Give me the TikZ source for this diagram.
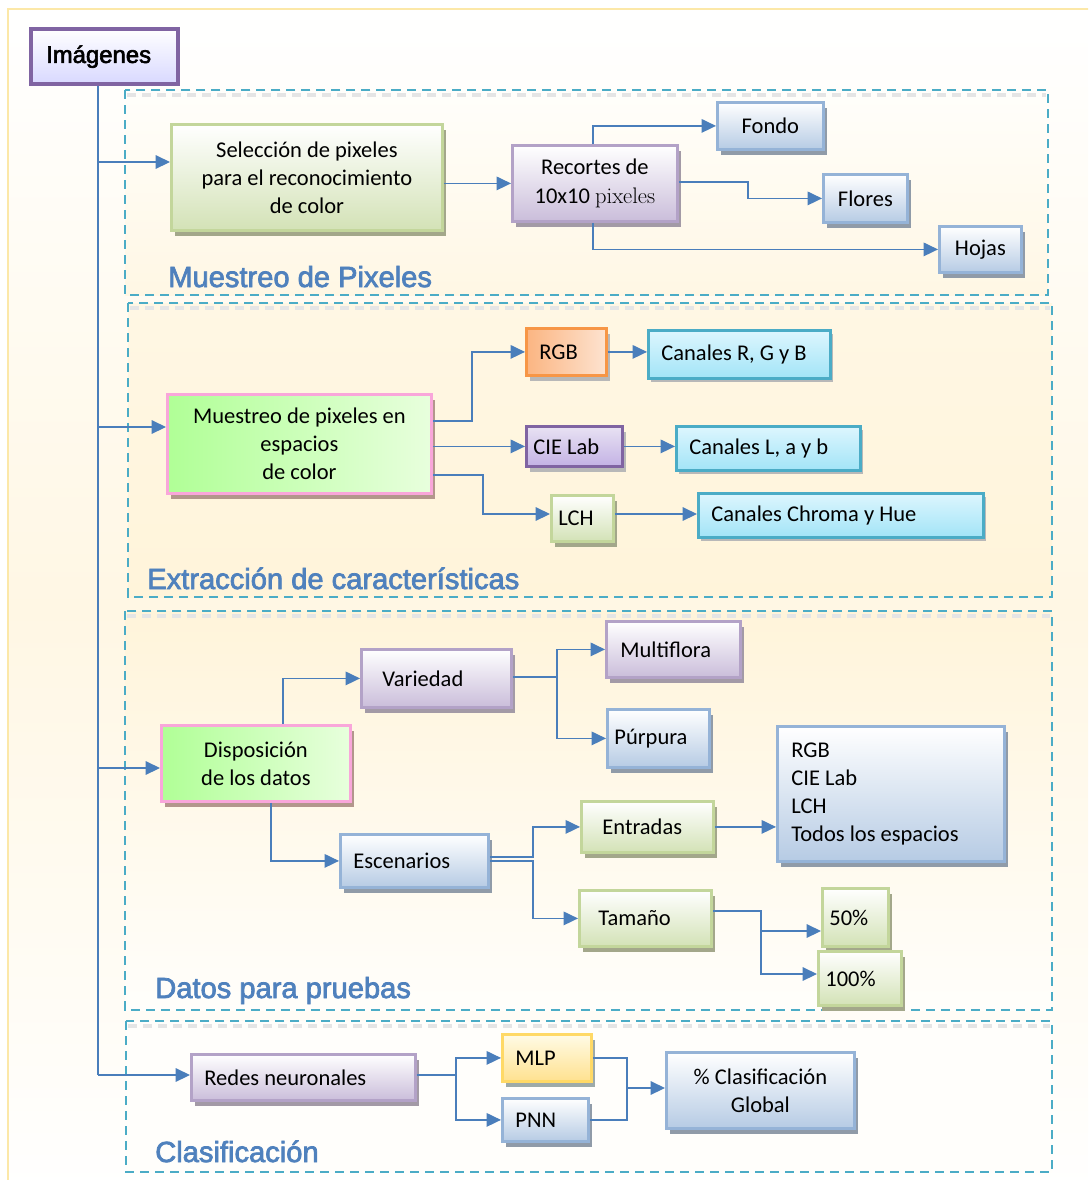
\documentclass[tikz,border=0pt]{standalone}
\usepackage{fontspec}
\newfontfamily\calibri{Carlito}
\newfontfamily\arialheavy[FakeBold=2.5]{Liberation Sans}
\usetikzlibrary{arrows.meta,shadows}

% palette
\definecolor{lineblue}{HTML}{4A7EBB}
\definecolor{dashcyan}{HTML}{4BACC6}
\definecolor{titleblue}{HTML}{4F81BD}
\definecolor{frameyellow}{HTML}{FCE8A8}
\definecolor{gline}{HTML}{C3D69B}
\definecolor{gfill}{HTML}{D3E2B6}
\definecolor{gshade}{HTML}{A3A78A}
\definecolor{pline}{HTML}{B3A2C7}
\definecolor{pfill}{HTML}{CABDDA}
\definecolor{pshade}{HTML}{A39AA6}
\definecolor{bline}{HTML}{95B3D7}
\definecolor{bfill}{HTML}{B6CBE4}
\definecolor{bshade}{HTML}{909BA8}
\definecolor{kline}{HTML}{F9A6DA}
\definecolor{kfillA}{HTML}{B0FF96}
\definecolor{kfillB}{HTML}{E8FFDD}
\definecolor{kshade}{HTML}{B3968C}
\definecolor{oline}{HTML}{F79646}
\definecolor{ofillA}{HTML}{FBB582}
\definecolor{ofillB}{HTML}{FDE3D0}
\definecolor{vline}{HTML}{8064A2}
\definecolor{vfillA}{HTML}{E8E2F3}
\definecolor{vfillB}{HTML}{C3B2E4}
\definecolor{cfillA}{HTML}{DDF6FE}
\definecolor{cfillB}{HTML}{A2E4F7}
\definecolor{yline}{HTML}{FFD966}
\definecolor{yfillA}{HTML}{FFFBE6}
\definecolor{yfillB}{HTML}{FFE18F}
\definecolor{yshade}{HTML}{9DAAA9}
\definecolor{lightshade}{HTML}{B8B8B8}
\definecolor{imgfill}{HTML}{D8D8FF}
\definecolor{creamA}{HTML}{FFFEFB}
\definecolor{creamB}{HTML}{FFF7E4}
\definecolor{creamC}{HTML}{FFF4DA}

\begin{document}
\begin{tikzpicture}[x=0.025cm,y=-0.025cm,
  box/.style={draw, line width=2pt, inner sep=0pt, align=center, text=black,
    font=\calibri\fontsize{16}{20}\selectfont},
  wh/.style 2 args={minimum width=#1*0.025cm, minimum height=#2*0.025cm, anchor=north west},
  lft/.code 2 args={\pgfmathsetlengthmacro\boxtw{(#1-2*(#2))*0.025cm}%
    \pgfmathsetlengthmacro\boxin{#2*0.025cm}%
    \pgfkeysalso{text width=\boxtw, inner xsep=\boxin, align=flush left}},
  shd/.style={drop shadow={shadow xshift=0.1cm, shadow yshift=-0.13cm, opacity=1, fill=#1}},
  gbox/.style={box, draw=gline, top color=white, bottom color=gfill, shd=gshade},
  pbox/.style={box, draw=pline, top color=white, bottom color=pfill, shd=pshade},
  bbox/.style={box, draw=bline, top color=white, bottom color=bfill, shd=bshade},
  kbox/.style={box, draw=kline, left color=kfillA, right color=kfillB, shd=kshade},
  obox/.style={box, draw=oline, left color=ofillA, right color=ofillB, shd=lightshade},
  vbox/.style={box, draw=vline, top color=vfillA, bottom color=vfillB, shd=lightshade},
  cbox/.style={box, draw=dashcyan, top color=cfillA, bottom color=cfillB,
    drop shadow={shadow xshift=0.06cm, shadow yshift=-0.08cm, opacity=1, fill=lightshade}},
  ybox/.style={box, draw=yline, top color=yfillA, bottom color=yfillB, shd=yshade},
  sect/.style={draw=dashcyan, line width=1.5pt, dash pattern=on 0.225cm off 0.15cm},
  sectshadow/.style={draw=black!10, line width=2.5pt, dash pattern=on 0.225cm off 0.15cm},
  ttl/.style={anchor=base west, inner sep=0pt, text=titleblue,
    font=\arialheavy\fontsize{20.7}{24}\selectfont},
  con/.style={draw=lineblue, line width=0.9pt},
  arr/.style={con, -{Triangle[length=0.36cm,width=0.34cm]}}
]
\path[use as bounding box, clip] (0,0) rectangle (1088,1180);

% page frame
\draw[draw=frameyellow, line width=1.6pt, top color=white, bottom color=white,
  middle color=creamB] (8,9) rectangle (1120,1210);

% section panels
\fill[top color=creamA, bottom color=creamB] (125,90) rectangle (1048,295);
\fill[top color=creamB, bottom color=creamC] (128,303) rectangle (1052,597);
\fill[top color=creamC, bottom color=creamA] (125,611) rectangle (1052,1010);
\fill[top color=creamA, bottom color=creamA] (126,1021) rectangle (1052,1172);
\draw[sectshadow] (127,95) -- (1046,95);
\draw[sectshadow] (130,308) -- (1050,308);
\draw[sectshadow] (127,616) -- (1050,616);
\draw[sectshadow] (128,1026) -- (1050,1026);
\draw[sect] (125,90) rectangle (1048,295);
\draw[sect] (128,303) rectangle (1052,597);
\draw[sect] (125,611) rectangle (1052,1010);
\draw[sect] (126,1021) rectangle (1052,1172);

\node[ttl] (t1) at (168,287) {Muestreo de Pixeles};
\node[ttl] (t2) at (147,589) {Extracción de características};
\node[ttl] (t3) at (155,998) {Datos para pruebas};
\node[ttl] (t4) at (155,1162) {Clasificación};

% root
\node[box, draw=vline, line width=3pt, top color=white, bottom color=imgfill,
  wh={147}{55}, lft={147}{15}, font=\arialheavy\fontsize{17}{20}\selectfont] (img) at (29,27) {\raisebox{-1.5pt}{Imágenes}};

% section 1
\node[gbox, wh={271}{106}] (sel) at (170,123) {Selección de pixeles\\para el reconocimiento\\de color};
\node[pbox, wh={165}{76}] (rec) at (511,144) {Recortes de\\10x10 {\rmfamily pixeles}};
\node[bbox, wh={106}{47}] (fon) at (716,101) {Fondo};
\node[bbox, wh={84}{48}] (flo) at (822,173) {Flores};
\node[bbox, wh={82}{46}] (hoj) at (938,225) {Hojas};

% section 2
\node[kbox, wh={264}{99}] (mue) at (166,393) {Muestreo de pixeles en\\espacios\\de color};
\node[obox, wh={80}{47}, lft={80}{13}] (rgb) at (525,327) {RGB};
\node[vbox, wh={96}{40}, lft={96}{7}] (cie) at (525,425) {CIE Lab};
\node[gbox, wh={62}{46}, lft={62}{7}] (lch) at (550,494) {LCH};
\node[cbox, wh={182}{48}, lft={182}{13}] (crgb) at (647,329) {Canales R, G y B};
\node[cbox, wh={184}{44}, lft={184}{13}] (clab) at (675,425) {Canales L, a y b};
\node[cbox, wh={285}{44}, lft={285}{13}] (cch) at (697,492) {Canales Chroma y Hue};

% section 3
\node[kbox, wh={189}{76}] (dis) at (160,724) {Disposición\\de los datos};
\node[pbox, wh={150}{58}, lft={150}{21}] (var) at (360,648) {Variedad};
\node[pbox, wh={134}{56}, lft={134}{14}] (mul) at (605,620) {Multiflora};
\node[bbox, wh={102}{58}, lft={102}{7}] (pur) at (606,708) {Púrpura};
\node[bbox, wh={148}{53}, lft={148}{13}] (esc) at (339,833) {Escenarios};
\node[gbox, wh={132}{51}, lft={132}{21}] (ent) at (580,800) {Entradas};
\node[gbox, wh={132}{56}, lft={132}{19}] (tam) at (578,889) {Tamaño};
\node[bbox, wh={227}{135}, lft={227}{14}] (lst) at (776,725) {RGB\\CIE Lab\\LCH\\Todos los espacios};
\node[gbox, wh={66}{58}, lft={66}{7}] (p50) at (821,887) {50\%};
\node[gbox, wh={83}{54}, lft={83}{7}] (p100) at (817,950) {100\%};

% section 4
\node[pbox, wh={224}{46}, lft={224}{13}] (red) at (190,1053) {Redes neuronales};
\node[ybox, wh={89}{47}, lft={89}{13}] (mlp) at (501,1033) {MLP};
\node[bbox, wh={86}{43}, lft={86}{13}] (pnn) at (501,1097) {PNN};
\node[bbox, wh={188}{76}] (glo) at (665,1051) {\% Clasificación\\Global};

% trunk
\coordinate (b1) at (98,162);
\coordinate (b2) at (98,427);
\coordinate (b3) at (98,768);
\coordinate (b4) at (98,1075);
\draw[con] (98,0 |- img.south) -- (b4);
\draw[arr] (b1) -- (sel.west |- b1);
\draw[arr] (b2) -- (mue.west |- b2);
\draw[arr] (b3) -- (dis.west |- b3);
\draw[arr] (b4) -- (red.west |- b4);

% section 1 links
\draw[arr] (sel.east |- rec.west) -- (rec.west);
\draw[arr] (593,0 |- rec.north) |- (fon.west);
\draw[arr] (rec.east |- 0,182) -- (748,182) |- (flo.west);
\draw[arr] (593,0 |- rec.south) |- (hoj.west);

% section 2 links
\draw[arr] (mue.east |- 0,421) -- (472,421) |- (rgb.west);
\draw[arr] (mue.east |- cie.west) -- (cie.west);
\draw[arr] (mue.east |- 0,475) -- (483,475) |- (lch.west |- 0,514);
\draw[arr] (rgb.east) -- (crgb.west |- rgb.east);
\draw[arr] (cie.east) -- (clab.west |- cie.east);
\draw[arr] (lch.east |- 0,514) -- (cch.west |- 0,514);

% section 3 links
\draw[arr] (283,0 |- dis.north) |- (var.west);
\draw[arr] (271,0 |- dis.south) |- (esc.west);
\draw[arr] (var.east |- 0,677) -- (557,677) |- (mul.west);
\draw[arr] (557,677) |- (pur.west);
\draw[arr] (esc.east |- 0,857) -- (533,857) |- (ent.west);
\draw[arr] (esc.east |- 0,861) -- (533,861) |- (tam.west);
\draw[arr] (ent.east) -- (lst.west |- ent.east);
\draw[arr] (tam.east |- 0,911) -- (761,911) |- (p50.west |- 0,931);
\draw[arr] (761,911) |- (p100.west |- 0,974);

% section 4 links
\coordinate (join) at (627,1088);
\draw[arr] (red.east |- 0,1075) -- (456,1075) |- (mlp.west);
\draw[arr] (456,1075) |- (pnn.west);
\draw[con] (mlp.east) -| (join);
\draw[con] (pnn.east) -| (join);
\draw[arr] (join) -- (glo.west |- join);
\end{tikzpicture}
\end{document}
